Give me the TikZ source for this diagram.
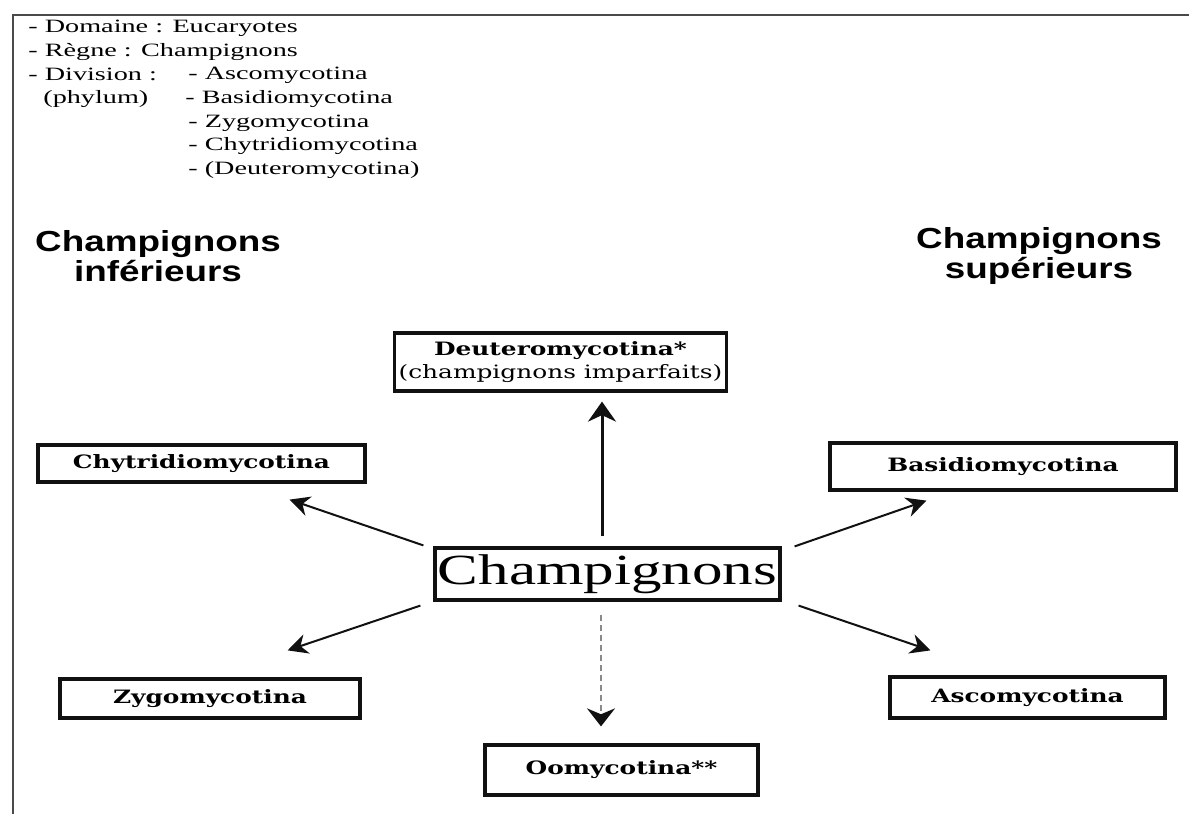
\documentclass[tikz,border=0pt]{standalone}
\usepackage{fontspec}
\setmainfont{Liberation Serif}[FakeStretch=1.5]
\newfontfamily\headfont{Liberation Sans}[FakeStretch=1.27]
\newfontfamily\boxfont{DejaVu Serif}[FakeStretch=1.35]
\newfontfamily\bigfont{Liberation Serif}[FakeStretch=1.42]
\usepackage{xcolor}
\definecolor{ink}{HTML}{111111}
\definecolor{frameGrey}{HTML}{4a4a4a}
\definecolor{dashGrey}{HTML}{8a8a8a}
\usetikzlibrary{arrows.meta}

\begin{document}
\begin{tikzpicture}[
  x=0.5pt, y=-0.5pt,
  every node/.style={align=center},
  block/.style={rectangle, draw=ink, line width=1.6pt, fill=white, inner sep=2pt,
    font=\boxfont\bfseries\fontsize{9.2}{11.5}\selectfont},
  arrow/.style={-{Stealth[length=10pt, width=10pt]}, line width=1pt, color=ink},
  head/.style={font=\headfont\bfseries\fontsize{14.5}{15}\selectfont, inner sep=0pt},
  list/.style={anchor=north west, align=left, inner sep=0pt,
    font=\fontsize{9.4}{11.8}\selectfont},
]
  \useasboundingbox (0,0) rectangle (1189,814);
  \draw[frameGrey, line width=1.2pt] (13,814) |- (1189,15);

  % classification
  \node[list] (taxo) at (28,20) {- Domaine : Eucaryotes\\- Règne : Champignons\\- Division :\\\hspace*{7.5pt}(phylum)};
  \node[list] (divs) at (188,67) {- Ascomycotina\\\hspace*{-1.5pt}- Basidiomycotina\\- Zygomycotina\\- Chytridiomycotina\\- (Deuteromycotina)};

  \node[head] (low) at (158,256) {Champignons\\inférieurs};
  \node[head] (high) at (1039,256) {Champignons\\supérieurs};

  % boxes
  \node[block, minimum width=158.5pt, minimum height=29pt] (deut) at (560.5,362)
    {Deuteromycotina*\\{\mdseries (champignons imparfaits)}};
  \node[block, minimum width=163.5pt, minimum height=18.5pt] (chyt) at (201.5,463.5) {Chytridiomycotina};
  \node[block, minimum width=173pt, minimum height=23.5pt] (basi) at (1003,466.5) {Basidiomycotina};
  \node[block, minimum width=172.5pt, minimum height=26pt, inner sep=0pt,
    font=\bigfont\fontsize{21.5}{24}\selectfont] (champ) at (607.5,574) {Champignons};
  \node[block, minimum width=150pt, minimum height=19.5pt] (zygo) at (210,698.5) {Zygomycotina};
  \node[block, minimum width=137.5pt, minimum height=20.5pt] (asco) at (1027.5,697.5) {Ascomycotina};
  \node[block, minimum width=136.5pt, minimum height=25pt] (oomy) at (621.5,770) {Oomycotina**};

  % links
  \draw[arrow, line width=1.5pt, -{Stealth[length=10pt, width=14pt]}]
    ([shift={(-5.5,-10)}]champ.north) -- ([shift={(41.5,9)}]deut.south);
  \draw[arrow] ([shift={(-10,-1)}]champ.north west) -- ([shift={(-77,16)}]chyt.south east);
  \draw[arrow] ([shift={(-13,4)}]champ.south west) -- ([shift={(-74,-27)}]zygo.north east);
  \draw[arrow] ([shift={(13,0)}]champ.north east) -- ([shift={(98,9)}]basi.south west);
  \draw[arrow] ([shift={(17,4)}]champ.south east) -- ([shift={(42,-25)}]asco.north west);
  \draw[arrow, dashGrey, dash pattern=on 3pt off 2pt,
    -{Stealth[length=9pt, width=14pt, color=ink]}]
    ([shift={(-6.5,13)}]champ.south) -- ([shift={(-20.5,-17)}]oomy.north);
\end{tikzpicture}
\end{document}
